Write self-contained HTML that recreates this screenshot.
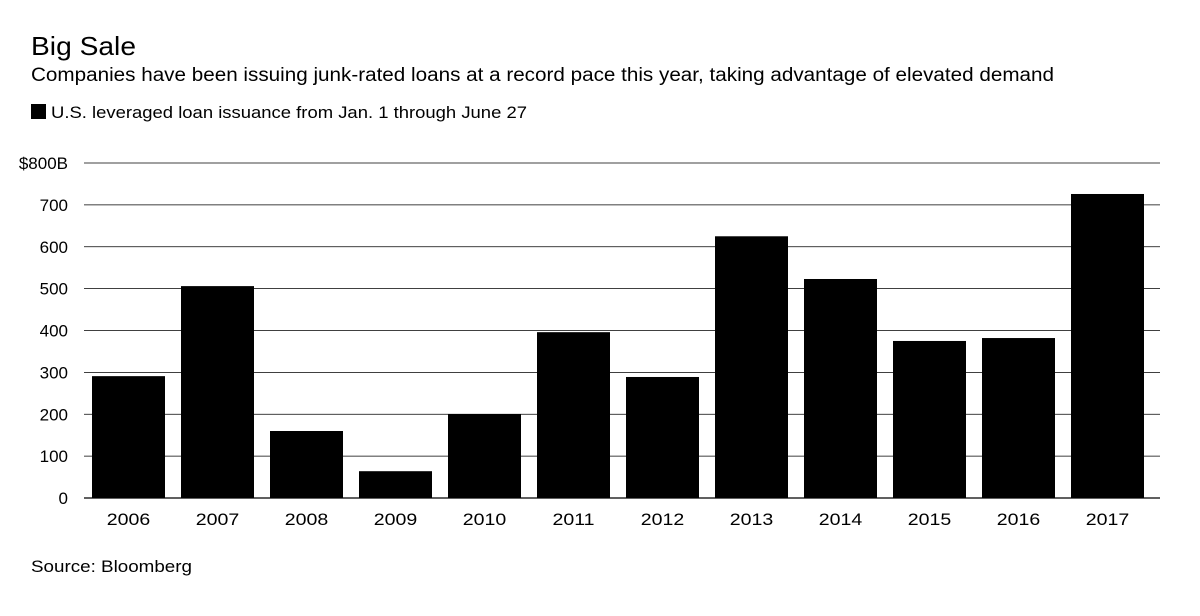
<!DOCTYPE html>
<html><head><meta charset="utf-8"><style>
body{margin:0;background:#fff;width:1200px;height:611px;overflow:hidden;font-family:"Liberation Sans",sans-serif;}
</style></head><body>
<svg width="1200" height="611" font-family="Liberation Sans, sans-serif">
<text x="31" y="55" font-size="26" textLength="105" lengthAdjust="spacingAndGlyphs" fill="#000">Big Sale</text>
<text x="31" y="81" font-size="19" textLength="1023" lengthAdjust="spacingAndGlyphs" fill="#000">Companies have been issuing junk-rated loans at a record pace this year, taking advantage of elevated demand</text>
<rect x="31" y="104" width="15" height="15" fill="#000"/>
<text x="51" y="118" font-size="17" textLength="476" lengthAdjust="spacingAndGlyphs" fill="#000">U.S. leveraged loan issuance from Jan. 1 through June 27</text>
<g id="grid"></g><g id="bars"></g><g id="xl"></g>
<text x="31" y="572" font-size="17" textLength="161" lengthAdjust="spacingAndGlyphs" fill="#000">Source: Bloomberg</text>
</svg>
<script>
const categories=["2006","2007","2008","2009","2010","2011","2012","2013","2014","2015","2016","2017"];
const values=[291,506,160,64,200,396,289,625,523,375,382,726];
const ticks=[0,100,200,300,400,500,600,700,800];
const tickLabels=["0","100","200","300","400","500","600","700","$800B"];
const NS="http://www.w3.org/2000/svg";
const y=v=>498-v*(335/800);
const x=i=>92+i*89;
const g=document.getElementById('grid'),b=document.getElementById('bars'),xl=document.getElementById('xl');
ticks.forEach((t,i)=>{
 const l=document.createElementNS(NS,'line');
 l.setAttribute('x1',84);l.setAttribute('x2',1160);l.setAttribute('y1',y(t));l.setAttribute('y2',y(t));
 l.setAttribute('stroke','#000');l.setAttribute('stroke-width',t===0?1.2:0.8);
 
 
 g.appendChild(l);
 const tx=document.createElementNS(NS,'text');
 tx.setAttribute('x',68);tx.setAttribute('y',y(t)+6);tx.setAttribute('text-anchor','end');tx.setAttribute('font-size','17');
 tx.textContent=tickLabels[i];
 
 
 g.appendChild(tx);
});
categories.forEach((c,i)=>{
 const r=document.createElementNS(NS,'rect');
 r.setAttribute('x',x(i));r.setAttribute('width',73);r.setAttribute('y',y(values[i]));r.setAttribute('height',498-y(values[i]));
 r.setAttribute('fill','#000');
 
 
 b.appendChild(r);
 const t=document.createElementNS(NS,'text');
 const cx=x(i)+36.5;
 t.setAttribute('x',cx);t.setAttribute('y',525);t.setAttribute('text-anchor','middle');t.setAttribute('font-size','17');
 t.setAttribute('transform','translate('+cx+',0) scale(1.15,1) translate('+(-cx)+',0)');
 t.textContent=c;
 
 
 xl.appendChild(t);
});
</script>
</body></html>
